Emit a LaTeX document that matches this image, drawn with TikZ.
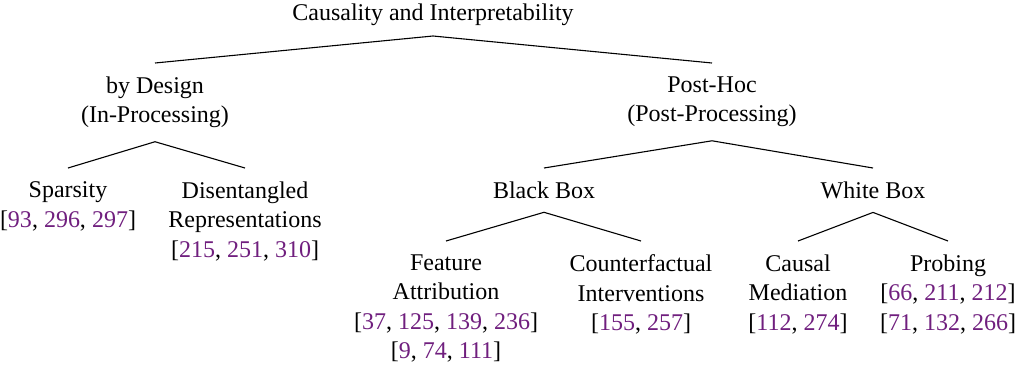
\documentclass[tikz,border=0pt]{standalone}
\usepackage{fontspec}
\setmainfont{Liberation Serif}
\definecolor{citec}{RGB}{112,31,126}
\newcommand\cc[1]{\textcolor{citec}{#1}}
\begin{document}
\begin{tikzpicture}[x=1pt,y=-1pt,
  tnode/.style={align=center,inner xsep=2pt,inner ysep=13.5pt,font={\fontsize{24}{29.5}\selectfont}},
  edge/.style={line width=1.1pt}]
\useasboundingbox (0,0) rectangle (1025,370);
\node[tnode,anchor=south,inner ysep=10pt] (root) at (433,36) {Causality and Interpretability};
\node[tnode,anchor=north] (design) at (155,63) {by Design\\(In-Processing)};
\node[tnode,anchor=north] (post) at (712,63) {Post-Hoc\\(Post-Processing)};
\node[tnode,anchor=north] (sparse) at (68,168) {Sparsity\\{}[\cc{93}, \cc{296}, \cc{297}]};
\node[tnode,anchor=north] (disent) at (245,168) {Disentangled\\Representations\\{}[\cc{215}, \cc{251}, \cc{310}]};
\node[tnode,anchor=north] (black) at (544,168) {Black Box};
\node[tnode,anchor=north] (white) at (873,168) {White Box};
\node[tnode,anchor=north] (feat) at (446,241) {Feature\\Attribution\\{}[\cc{37}, \cc{125}, \cc{139}, \cc{236}]\\{}[\cc{9}, \cc{74}, \cc{111}]};
\node[tnode,anchor=north] (counter) at (641,241) {Counterfactual\\Interventions\\{}[\cc{155}, \cc{257}]};
\node[tnode,anchor=north] (causal) at (798,241) {Causal\\Mediation\\{}[\cc{112}, \cc{274}]};
\node[tnode,anchor=north] (probe) at (948,241) {Probing\\{}[\cc{66}, \cc{211}, \cc{212}]\\{}[\cc{71}, \cc{132}, \cc{266}]};
\draw[edge] (design.north) -- (root.south) -- (post.north);
\draw[edge] (sparse.north) -- (design.south) -- (disent.north);
\draw[edge] (black.north) -- (post.south) -- (white.north);
\draw[edge] (feat.north) -- (black.south) -- (counter.north);
\draw[edge] (causal.north) -- (white.south) -- (probe.north);
\end{tikzpicture}
\end{document}
